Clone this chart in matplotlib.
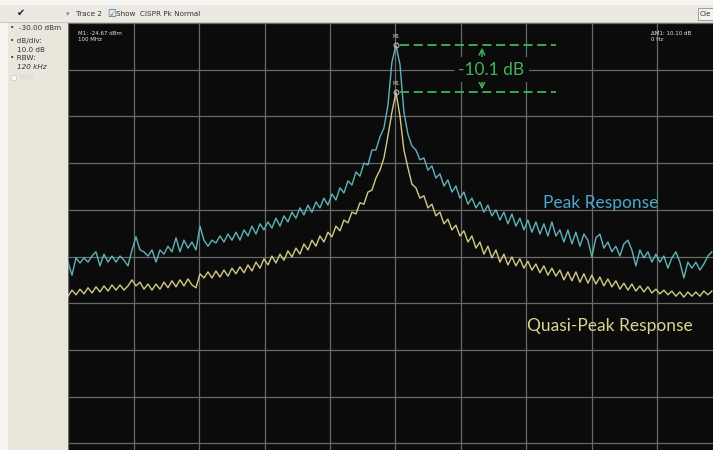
import numpy as np
import matplotlib
matplotlib.use("Agg")
import matplotlib.pyplot as plt
from matplotlib.patches import Rectangle

# spectrum analyzer screen: 100 MHz centre, 100 kHz/div, ref -20 dBm, 10 dB/div
F_START, F_STOP = -500, 483      # kHz offset of first / last sweep point shown
REF_LEVEL = -20
DB_PER_DIV = 10

# peak detector trace (dBm)
peak_dbm = [
    -71.2, -74.0, -70.3, -71.4, -70.3, -71.2, -69.9, -69.0, -72.0, -69.5,
    -71.2, -69.9, -71.2, -69.9, -70.8, -72.0, -68.6, -65.8, -68.6, -69.0,
    -69.9, -68.6, -71.2, -68.6, -69.5, -67.8, -69.0, -66.0, -69.0, -66.5,
    -68.2, -66.9, -68.6, -63.5, -66.5, -67.8, -66.5, -67.1, -65.6, -66.9,
    -65.2, -66.5,
    -64.8, -66.5, -64.3, -65.6, -63.5, -65.2, -63.0, -64.3, -62.6, -63.9,
    -61.8, -63.5, -61.3, -62.6, -60.5, -61.8, -59.6, -61.1, -59.0, -60.5,
    -58.3, -59.6, -57.5, -59.0, -56.6, -57.9, -55.3, -56.4, -53.8, -54.7,
    -51.9, -52.8, -50.0, -50.4, -47.2, -47.2, -44.4, -42.5, -37.6, -28.4,
    -24.7,
    -28.8, -39.1, -43.8, -46.3, -47.2, -49.3, -48.9, -51.5, -50.6, -53.2,
    -52.3, -54.9, -53.6, -56.2, -54.9, -57.5, -56.2, -58.8, -57.5, -59.6,
    -58.3, -60.5, -59.0, -61.3, -60.0, -62.2, -60.5, -63.0, -60.9, -63.5,
    -61.8, -64.3, -62.2, -64.8, -62.6, -65.2, -63.0, -65.6, -62.6, -65.6,
    -64.3, -66.9, -64.3, -67.3, -64.8, -67.8, -65.2, -66.5, -70.1, -66.0,
    -65.2, -68.2, -66.9, -69.0, -67.8, -69.9, -67.3, -66.5, -68.6, -72.0,
    -68.6, -70.3, -69.0, -71.2, -69.5, -71.2, -69.9, -72.5, -70.3, -69.0,
    -71.2, -74.6, -71.2, -72.5, -71.2, -72.9, -71.6, -69.9, -69.0,
]

# CISPR quasi-peak trace (dBm)
qpeak_dbm = [
    -78.5, -77.2, -78.2, -77.0, -78.0, -76.7, -77.8, -76.5, -77.6, -76.3,
    -77.4, -76.1, -77.2, -76.1, -77.2, -76.3, -75.0, -76.3, -75.5, -77.0,
    -75.9, -77.2, -75.9, -77.0, -75.5, -76.7, -75.2, -76.5, -75.0, -76.3,
    -74.8, -76.1, -76.7, -73.7, -74.6, -73.3, -74.6, -73.1, -74.4, -72.9,
    -74.2, -72.5,
    -73.7, -72.2, -73.5, -71.8, -73.1, -71.2, -72.5, -70.5, -71.8, -69.9,
    -71.4, -69.5, -70.8, -68.8, -70.1, -68.2, -69.5, -67.3, -68.6, -66.5,
    -67.8, -65.6, -66.9, -64.8, -65.8, -63.5, -64.5, -62.2, -62.8, -60.5,
    -60.9, -58.5, -58.8, -56.2, -55.8, -53.2, -51.5, -48.9, -44.2, -39.1,
    -34.8,
    -39.9, -47.2, -51.0, -54.5, -55.3, -57.5, -57.0, -59.6, -58.8, -61.3,
    -60.5, -63.0, -62.0, -64.3, -63.3, -65.6, -64.5, -66.9, -65.6, -68.2,
    -66.9, -69.5, -67.8, -70.3, -68.6, -71.2, -69.5, -71.8, -70.1, -72.0,
    -70.5, -72.5, -71.0, -72.9, -71.6, -73.5, -72.0, -74.0, -72.5, -74.2,
    -72.9, -75.0, -73.3, -75.2, -73.3, -75.5, -73.7, -75.7, -74.0, -75.9,
    -74.4, -76.3, -74.8, -76.5, -75.2, -77.0, -75.7, -77.2, -75.9, -77.4,
    -76.3, -77.6, -76.5, -77.8, -77.0, -78.0, -77.2, -78.2, -77.4, -78.5,
    -77.6, -78.7, -77.6, -78.5, -77.6, -78.5, -77.4, -78.2, -77.4,
]

m1_text = ["M1: -24.67 dBm", "100 MHz"]
delta_text = ["\u0394M1: 10.10 dB", "0 Hz"]
delta_label = "-10.1 dB"

side_labels = ["\u2022  -30.00 dBm", "\u2022 dB/div:", "10.0 dB", "\u2022 RBW:", "120 kHz"]

freq = np.linspace(F_START, F_STOP, len(peak_dbm))
ipk = int(np.argmax(peak_dbm))
iqp = int(np.argmax(qpeak_dbm))

W, H = 713, 450
fig = plt.figure(figsize=(W / 100, H / 100), dpi=100, facecolor="#f6f5f1")

# window chrome
fig.patches.append(Rectangle((0, 1 - 22 / H), 1, 17 / H, transform=fig.transFigure,
                             facecolor="#ebe9e1", edgecolor="none"))
fig.patches.append(Rectangle((0, 1 - 23 / H), 1, 1.2 / H, transform=fig.transFigure,
                             facecolor="#c9c6bc", edgecolor="none"))
fig.patches.append(Rectangle((8 / W, 0), 60 / W, 1 - 23 / H, transform=fig.transFigure,
                             facecolor="#e9e6dc", edgecolor="none"))
fig.patches.append(Rectangle((698 / W, 1 - 20 / H), 15 / W, 12 / H, transform=fig.transFigure,
                             facecolor="#f4f3ef", edgecolor="#8c8c8c", linewidth=0.6))

ui = dict(fontsize=5.2, color="#333333", family="DejaVu Sans", va="center")
fig.text(17 / W, 1 - 13 / H, "\u2714", fontsize=7, color="#222222", va="center")
fig.text(66 / W, 1 - 14 / H, "\u25be", fontsize=5, color="#888888", va="center")
fig.text(76 / W, 1 - 14 / H, "Trace 2", **ui)
fig.text(107 / W, 1 - 14 / H, "\u2611", fontsize=7, color="#3a6ea5", va="center")
fig.text(116 / W, 1 - 14 / H, "Show  CISPR Pk Normal", **ui)
fig.text(700 / W, 1 - 14 / H, "Cle", **ui)

ys = [28, 41, 50, 58, 67]
xs = [10, 10, 17, 10, 17]
for x, y, s in zip(xs, ys, side_labels):
    kw = dict(ui)
    if s.startswith("120"):
        kw["style"] = "italic"
    fig.text(x / W, 1 - y / H, s, **kw)
fig.patches.append(Rectangle((11 / W, 1 - 80 / H), 5 / W, 5 / H, transform=fig.transFigure,
                             facecolor="#f8f8f8", edgecolor="#cccccc", linewidth=0.5))
fig.text(19 / W, 1 - 77 / H, "VBW", fontsize=5, color="#d8d6d0", va="center")

# instrument screen (extends past the image edge, as in the screenshot)
ax = fig.add_axes([68 / W, (H - 490) / H, 655 / W, 467 / H])
ax.set_facecolor("#0c0b0b")
ax.set_xlim(-500, 500)
ax.set_ylim(REF_LEVEL - 10 * DB_PER_DIV, REF_LEVEL)
ax.set_xticks(np.arange(-500, 501, 100))
ax.set_yticks(np.arange(REF_LEVEL - 10 * DB_PER_DIV, REF_LEVEL + 1, DB_PER_DIV))
ax.grid(True, color="#6a6a6a", linewidth=0.9)
ax.tick_params(length=0, labelbottom=False, labelleft=False)
for s in ax.spines.values():
    s.set_visible(False)

ax.plot(freq, qpeak_dbm, color="#cfcb85", linewidth=1.0)
ax.plot(freq, peak_dbm, color="#5fb3b8", linewidth=1.0)

# markers
for i, tr in ((ipk, peak_dbm), (iqp, qpeak_dbm)):
    ax.plot(freq[i], tr[i], "o", ms=3.5, mfc="none", mec="#bfbfbf", mew=0.8)
    ax.text(freq[i], tr[i] + 1.3, "M1", fontsize=3.5, color="#cfcfcf",
            ha="center", va="bottom")

ax.text(-485, -22.2, m1_text[0], fontsize=4, color="#e6e6e6", va="center")
ax.text(-485, -23.5, m1_text[1], fontsize=4, color="#e6e6e6", va="center")
ax.text(390, -22.2, delta_text[0], fontsize=4, color="#e6e6e6", va="center")
ax.text(390, -23.5, delta_text[1], fontsize=4, color="#e6e6e6", va="center")

# delta annotation
green = "#3fb35c"
x_end = 245
ax.hlines([peak_dbm[ipk], qpeak_dbm[iqp]], freq[ipk] + 6, x_end, colors=green,
          linestyles=(0, (5, 2.6)), linewidth=1.3)
x_arr = 132
ax.annotate("", xy=(x_arr, peak_dbm[ipk]), xytext=(x_arr, -28.0),
            arrowprops=dict(arrowstyle="->", color=green, lw=1.1))
ax.annotate("", xy=(x_arr, qpeak_dbm[iqp]), xytext=(x_arr, -32.0),
            arrowprops=dict(arrowstyle="->", color=green, lw=1.1))
ax.text(x_arr + 14, -30.0, delta_label, fontsize=12.5, color=green, family="Lato",
        ha="center", va="center", zorder=6,
        bbox=dict(boxstyle="square,pad=0.25", facecolor="#0c0b0b", edgecolor="none"))

ax.text(225, -58.5, "Peak Response", fontsize=12.5, color="#4aa8cf", family="Lato",
        va="center")
ax.text(201, -84.9, "Quasi-Peak Response", fontsize=12.5, color="#d8d58e", family="Lato",
        va="center")

fig.savefig("out.png", dpi=100, facecolor=fig.get_facecolor())
